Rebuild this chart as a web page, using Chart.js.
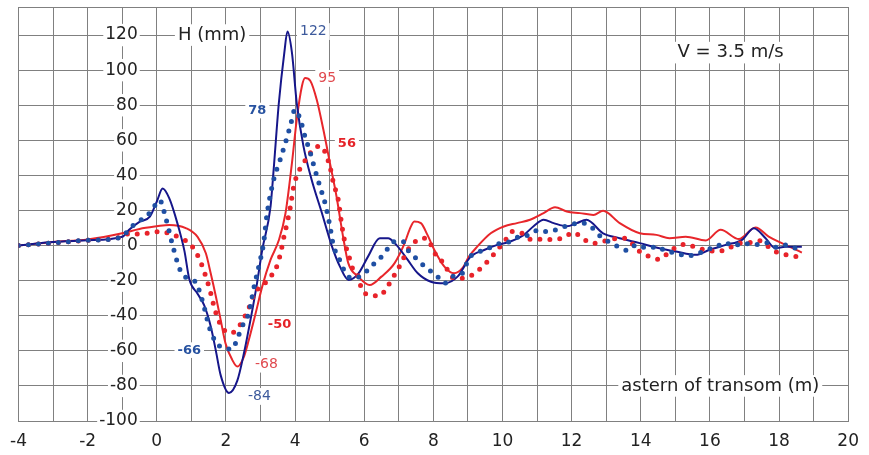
<!DOCTYPE html>
<html>
<head>
<meta charset="utf-8">
<script src="https://cdn.jsdelivr.net/npm/chart.js@4/dist/chart.umd.min.js"></script>
<style>
  html, body { margin: 0; padding: 0; background: #fff; }
</style>
</head>
<body>
<canvas id="c" width="869" height="455"></canvas>
<script>
// wave height H (mm) against distance astern of transom (m), V = 3.5 m/s

// solid dark blue
const navyX = [-4, -3, -2, -1, -0.8, -0.5, -0.2, 0, 0.17, 0.36, 0.6, 0.8, 0.94, 1.18, 1.37, 1.56, 1.71, 1.85, 2.09, 2.33, 2.52, 2.71, 2.9, 3.05, 3.29, 3.38, 3.53, 3.69, 3.78, 3.91, 4.05, 4.24, 4.48, 4.77, 5.06, 5.3, 5.55, 5.83, 6.11, 6.45, 6.69, 6.93, 7.26, 7.55, 7.93, 8.32, 8.7, 9.08, 9.47, 9.85, 10.23, 10.61, 10.9, 11.19, 11.48, 11.86, 12.15, 12.43, 12.91, 13.39, 13.97, 14.54, 15.02, 15.59, 15.98, 16.46, 16.93, 17.27, 17.61, 17.89, 18.18, 18.66];
const navyY = [0, 2, 3, 5, 9, 13.5, 16.5, 25, 32.5, 27, 12.5, -3, -19, -27.5, -34, -46, -60, -74, -84, -77, -61.5, -42.5, -21.5, -2.5, 22, 43, 81, 110, 122, 110, 81, 57, 37.5, 19, 0, -12, -19.6, -16, -6.3, 4.2, 4.2, 0.4, -8.2, -15.8, -20.6, -21.5, -17.7, -6.3, -2.5, 0.4, 2.3, 6, 11, 14.7, 12.8, 11, 12.8, 14.7, 7, 4.2, 1.4, -1.5, -3.4, -5.3, -2.5, 0.4, 3.3, 9.9, 4.2, -1.5, -0.6, -0.6];

// dotted blue
const blueDotX = [-4, -3, -2, -1, -0.78, -0.5, -0.16, 0.08, 0.27, 0.46, 0.7, 1.0, 1.13, 1.37, 1.51, 1.71, 1.95, 2.18, 2.33, 2.47, 2.66, 2.81, 2.95, 3.09, 3.19, 3.38, 3.57, 3.72, 3.86, 4.0, 4.15, 4.29, 4.44, 4.58, 4.72, 4.87, 5.01, 5.11, 5.25, 5.44, 5.63, 5.87, 6.11, 6.3, 6.5, 6.69, 6.88, 7.12, 7.26, 7.45, 7.64, 7.88, 8.12, 8.32, 8.55, 8.84, 9.03, 9.22, 9.46, 9.7, 9.94, 10.23, 10.47, 10.76, 11.05, 11.28, 11.95, 12.3, 12.6, 12.85, 13.06, 13.34, 13.63, 13.87, 14.2, 14.49, 14.73, 15.02, 15.3, 15.64, 15.88, 16.17, 16.41, 16.7, 16.94, 17.27, 17.61, 17.89, 18.18, 18.47];
const blueDotY = [0, 1.5, 3, 5, 10, 14, 19.5, 26, 15, 0, -15, -19.5, -21, -35, -46, -55, -58.5, -59, -53, -46, -38.6, -24, -12, 1.4, 18, 37.5, 49, 58.5, 68, 77.5, 72, 62, 53, 43, 33.7, 24, 11, 0, -6.3, -14.9, -18.6, -17.7, -13.9, -10, -6.3, -1.5, 2.3, 2.3, -2.5, -6.3, -10, -13.9, -17.7, -21.5, -17.7, -15.8, -7.2, -4.4, -2.5, -0.6, 1.4, 2.3, 5.1, 6, 9, 8, 11.8, 13, 10, 5, 2.3, -0.6, -2.8, 0.4, -1.5, -0.6, -3.4, -4, -5.9, -4.7, -2.5, -1, 1.7, -0.2, 1.4, 0.4, 1.7, -1, 0.4, -1.5];

// solid red
const redX = [-4, -3, -2, -1, -0.5, 0, 0.36, 0.84, 1.18, 1.42, 1.56, 1.71, 1.85, 1.99, 2.18, 2.33, 2.52, 2.66, 2.86, 3.05, 3.29, 3.53, 3.72, 3.91, 4.05, 4.2, 4.29, 4.44, 4.63, 4.82, 5.01, 5.2, 5.39, 5.54, 5.83, 6.16, 6.5, 6.88, 7.17, 7.31, 7.45, 7.64, 7.83, 8.03, 8.32, 8.6, 8.84, 9.03, 9.27, 9.66, 10.04, 10.42, 10.8, 11.19, 11.52, 11.86, 12.24, 12.63, 12.91, 13.39, 13.97, 14.45, 14.83, 15.3, 15.88, 16.31, 16.84, 17.32, 17.7, 18.08, 18.66];
const redY = [0, 2, 3.5, 7, 9.5, 11, 11.8, 10, 5, -4.4, -15.8, -29, -42.5, -55.8, -65, -69, -63.4, -54, -38.6, -23.4, -8.2, 3, 18, 47, 72, 91, 95.5, 94, 83, 66, 47, 28, 5, -10, -17.7, -22.5, -17.7, -10, 1.4, 9, 13.7, 12.8, 6.1, -2.5, -12, -15.8, -12.9, -6.3, -0.6, 7, 10.9, 12.8, 14.7, 18.5, 21.9, 19.4, 18.5, 17.5, 19.8, 12.8, 7, 6.1, 4.2, 5.1, 2.9, 9, 3.7, 10.3, 5.1, 1.4, -4];

// dotted red
const redDotX = [-4, -3, -2, -1, -0.78, -0.5, -0.16, 0.13, 0.41, 0.7, 0.99, 1.23, 1.42, 1.56, 1.66, 1.75, 1.9, 2.14, 2.38, 2.52, 2.66, 2.86, 3.05, 3.24, 3.43, 3.57, 3.67, 3.76, 3.86, 3.96, 4.1, 4.24, 4.39, 4.53, 4.77, 4.91, 5.01, 5.11, 5.25, 5.35, 5.44, 5.59, 5.68, 5.83, 5.92, 6.11, 6.45, 6.64, 6.79, 6.93, 7.07, 7.26, 7.55, 7.79, 7.98, 8.12, 8.32, 8.41, 8.6, 8.84, 9.13, 9.37, 9.61, 9.85, 10.09, 10.28, 10.57, 10.85, 11.19, 11.48, 11.81, 12.05, 12.34, 12.63, 12.91, 13.2, 13.53, 13.97, 14.25, 14.54, 14.78, 15.02, 15.3, 15.59, 15.88, 16.22, 16.51, 16.84, 17.13, 17.41, 17.66, 17.89, 18.23, 18.52];
const redDotY = [0, 1.5, 3, 5, 7, 6.5, 7.4, 8, 6.5, 4.2, 0.4, -7.5, -17.7, -27, -35, -40.6, -47, -50, -46, -41.5, -35.8, -26, -23.4, -18.6, -13.9, -5.3, 4.2, 12, 21.5, 33.7, 42, 47, 51, 55.6, 56.6, 51, 45, 35.7, 26, 12, 2, -8.2, -13.9, -17.7, -24.4, -28, -28.7, -24.4, -19.6, -14.9, -10, -2.5, 3.3, 4.2, -1.5, -7.2, -10, -13.9, -18.6, -18.6, -16.7, -12.9, -8.2, -2.5, 3.3, 8, 7, 3.3, 3.7, 3.3, 5.1, 7.5, 3.7, 1.2, 2.3, 3.7, 4.2, -3.4, -6.3, -7.8, -4.4, -1, 0.8, -1.1, -2.5, -3.4, -1.9, 1.4, 1.7, 2.9, -0.2, -3.4, -5.3, -6.3];

// axis ranges
const xRange = [-4, 20];
const yRange = [-100, 136];

// texts placed in data coordinates
const notes = [
  { text: 'H (mm)', x: 1.6, y: 120, size: 18, bold: false, color: '#222' },
  { text: 'V = 3.5 m/s', x: 16.6, y: 110, size: 18, bold: false, color: '#222' },
  { text: 'astern of transom (m)', x: 16.3, y: -80, size: 18, bold: false, color: '#222' },
  { text: '122', x: 4.53, y: 122, size: 14, bold: false, color: '#3d5a9c' },
  { text: '-84', x: 2.97, y: -86, size: 14, bold: false, color: '#3d5a9c' },
  { text: '78', x: 2.91, y: 77, size: 13, bold: true, color: '#2752a0' },
  { text: '-66', x: 0.94, y: -59.6, size: 13, bold: true, color: '#2752a0' },
  { text: '95', x: 4.93, y: 95.3, size: 14, bold: false, color: '#e04a4f' },
  { text: '-68', x: 3.17, y: -67.6, size: 14, bold: false, color: '#e04a4f' },
  { text: '56', x: 5.5, y: 58, size: 13, bold: true, color: '#e52328' },
  { text: '-50', x: 3.55, y: -45.3, size: 13, bold: true, color: '#e52328' }
];

const gridColor = '#808080';
const fontFamily = '"DejaVu Sans", sans-serif';

function pts(xs, ys) {
  return xs.map((x, i) => ({ x: x, y: ys[i] }));
}

// frame top edge and the boxed texts
const notesPlugin = {
  id: 'notes',
  beforeDatasetsDraw(chart) {
    const ctx = chart.ctx;
    const a = chart.chartArea;
    const xs = chart.scales.x, ys = chart.scales.y;
    ctx.save();
    ctx.strokeStyle = gridColor;
    ctx.lineWidth = 1;
    ctx.beginPath();
    ctx.moveTo(a.left, a.top + 0.5);
    ctx.lineTo(a.right, a.top + 0.5);
    ctx.stroke();
    for (const n of notes) {
      ctx.font = (n.bold ? 'bold ' : '') + n.size + 'px ' + fontFamily;
      const w = ctx.measureText(n.text).width;
      const px = xs.getPixelForValue(n.x);
      const py = ys.getPixelForValue(n.y);
      ctx.fillStyle = '#fff';
      ctx.fillRect(px - w / 2 - 3, py - n.size * 0.6, w + 6, n.size * 1.2);
      ctx.fillStyle = n.color;
      ctx.textAlign = 'center';
      ctx.textBaseline = 'middle';
      ctx.fillText(n.text, px, py);
    }
    ctx.restore();
  }
};

const chart = new Chart(document.getElementById('c'), {
  type: 'line',
  data: {
    datasets: [
      {
        data: pts(blueDotX, blueDotY),
        borderColor: '#1f4fa3',
        borderWidth: 5,
        borderDash: [0, 10],
        borderCapStyle: 'round',
        order: 1
      },
      {
        data: pts(redDotX, redDotY),
        borderColor: '#e8232a',
        borderWidth: 5,
        borderDash: [0, 10],
        borderCapStyle: 'round',
        order: 2
      },
      {
        data: pts(navyX, navyY),
        borderColor: '#16168a',
        borderWidth: 2,
        order: 3
      },
      {
        data: pts(redX, redY),
        borderColor: '#e8262b',
        borderWidth: 2,
        order: 4
      }
    ]
  },
  options: {
    responsive: false,
    animation: false,
    layout: { padding: { left: 17, right: 16, top: 7, bottom: 0 } },
    plugins: {
      legend: { display: false },
      tooltip: { enabled: false }
    },
    elements: {
      point: { radius: 0 },
      line: { cubicInterpolationMode: 'monotone', fill: false }
    },
    scales: {
      x: {
        type: 'linear',
        min: xRange[0],
        max: xRange[1],
        ticks: {
          stepSize: 1,
          autoSkip: false,
          maxRotation: 0,
          padding: 10,
          color: '#222',
          font: { family: fontFamily, size: 17 },
          callback: v => (v % 2 === 0 ? String(v) : '')
        },
        grid: { color: gridColor, lineWidth: 1, drawTicks: false },
        border: { color: gridColor },
        afterFit: s => { s.height = 34; }
      },
      y: {
        type: 'linear',
        min: yRange[0],
        max: yRange[1],
        // labels sit just left of x = 0, inside the plot
        position: { x: -0.55 },
        ticks: {
          stepSize: 20,
          includeBounds: false,
          padding: 0,
          color: '#222',
          font: { family: fontFamily, size: 17 },
          showLabelBackdrop: true,
          backdropColor: '#fff',
          backdropPadding: { x: 2, y: 1 }
        },
        grid: { color: gridColor, lineWidth: 1, drawTicks: false },
        border: { display: false },
        afterFit: s => { s.paddingTop = 0; s.paddingBottom = 0; }
      }
    }
  },
  plugins: [notesPlugin]
});
</script>
</body>
</html>
